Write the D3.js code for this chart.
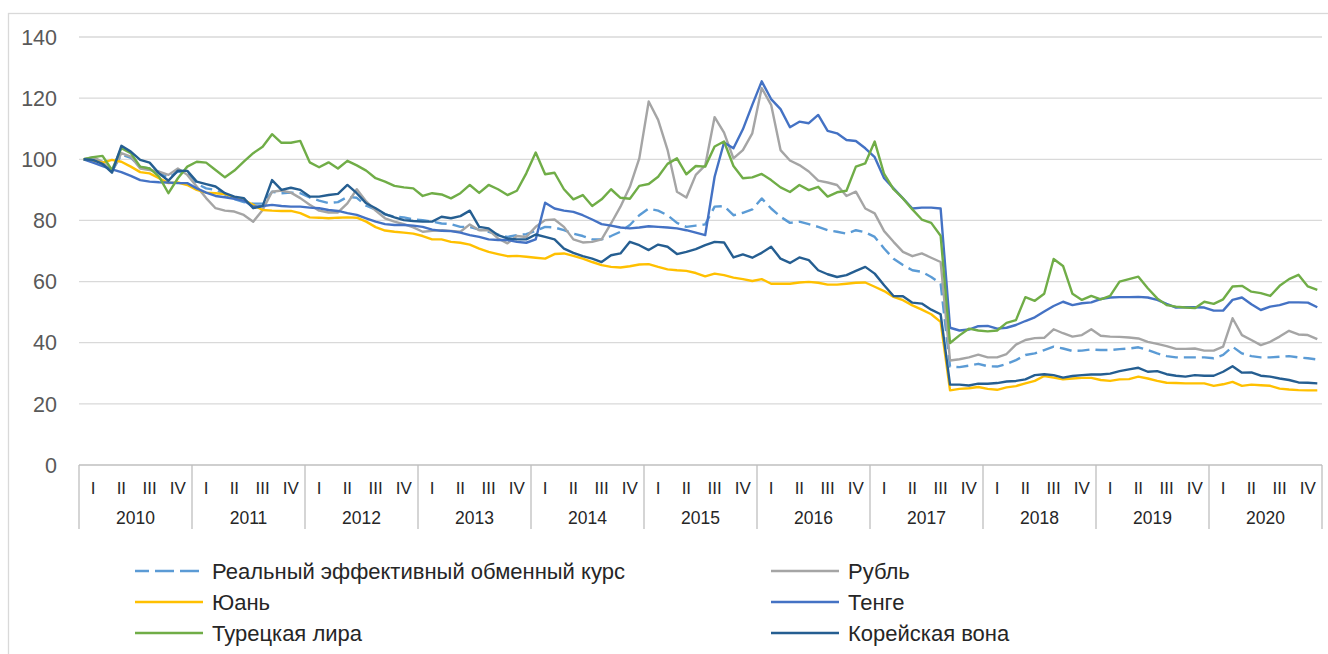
<!DOCTYPE html>
<html>
<head>
<meta charset="utf-8">
<script src="https://cdn.jsdelivr.net/npm/d3@7"></script>
<style>
  body { margin: 0; background: #fff; }
  text { font-family: "Liberation Sans", Arial, sans-serif; }
</style>
</head>
<body>
<script>
var width = 1328
var height = 654

// categories
const years = ["2010", "2011", "2012", "2013", "2014", "2015", "2016", "2017", "2018", "2019", "2020"]
const quarters = ["I", "II", "III", "IV"]
const yTicks = [0, 20, 40, 60, 80, 100, 120, 140]

// monthly index values, Jan 2010 = 100
const reer = [
  100, 99.5, 98.5, 96, 101.5, 100.5, 97.5, 97, 95.5, 94, 96, 95.5,
  92, 90.5, 90, 88.5, 87, 86, 85.5, 85.5, 89.4, 88.9, 89.1, 88.9,
  87.5, 86.5, 85.7, 86, 87.7, 87.4, 84.8, 83.5, 82, 81.2, 81, 80.3,
  80.1, 79.6, 79, 78.8, 77.9, 77.9, 77, 76.3, 75.4, 74.6, 75.2, 75.5,
  76.6, 77.9, 77.7, 76.8, 75.7, 74.9, 73.8, 73.8, 74.9, 76.3, 78.5, 81.7,
  83.9, 83.2, 81.7, 79.2, 77.9, 78.3, 78.7, 84.5, 84.7, 81.7, 82.5, 83.6,
  87.2, 83.9, 81.2, 79.2, 79.6, 78.8, 77.9, 76.8, 76.3, 75.7, 76.8, 76.1,
  74.6, 70.8, 67.5, 65.4, 63.7, 63.2, 61.5, 59.3, 32.2, 32, 32.5, 33.1,
  32.3, 32.2, 33, 34.3, 36, 36.5, 37.6, 38.7, 38.1, 37.3, 37.4, 37.8,
  37.6, 37.6, 37.9, 38.1, 38.5, 37.6, 36.5, 35.6, 35.2, 35.2, 35.2, 35.2,
  34.9, 36, 38.7, 36.5, 35.6, 35.2, 35.2, 35.4, 35.6, 35.2, 34.9, 34.5
]
const rub = [
  100, 100.7, 99.2, 96, 102, 100.9, 97, 96.5, 96, 94.9, 97, 94.9,
  91.1, 87.3, 84, 83.2, 82.9, 81.8, 79.6, 83.4, 89.4, 89.8, 89.1, 87.3,
  85.1, 83.2, 82.6, 82.6, 85.6, 90.2, 86.2, 83.2, 80.7, 79.6, 78.8, 77.7,
  76.3, 76.6, 76.8, 76.6, 76.3, 78.7, 76.8, 76.8, 74.1, 72.5, 74.9, 74.6,
  77.9, 80.1, 80.3, 77.9, 73.8, 72.8, 73, 73.8, 79, 84.5, 91, 100.3,
  118.9, 112.9, 103.1, 89.4, 87.5, 94.9, 98, 113.8, 108.7, 100.3, 103, 108.5,
  123.3, 117.8, 103, 99.6, 98.1, 96, 93, 92.4, 91.6, 88, 89.4, 83.9,
  82.3, 76.5, 73, 69.7, 68.3, 69.2, 67.8, 66.4, 34.2, 34.6, 35.2, 36.1,
  35.2, 35.2, 36.3, 39.4, 40.9, 41.5, 41.6, 44.4, 43.1, 42, 42.5, 44.4,
  42.3, 42, 41.9, 41.7, 41.4, 40.3, 39.6, 38.9, 38, 38, 38.1, 37.4,
  37.4, 38.7, 48, 42.5, 40.9, 39.2, 40.3, 42, 43.9, 42.7, 42.5, 41.2
]
const yuan = [
  100, 99.6, 98.9, 99.8, 99.2, 97.6, 95.8, 95.4, 93.8, 92.2, 92.4, 91.6,
  90, 89.1, 88.9, 88.6, 87.6, 86.7, 85.1, 83.4, 83.2, 83.1, 83.1, 82.4,
  81, 80.9, 80.7, 80.9, 81, 80.9, 79.6, 77.8, 76.7, 76.3, 76, 75.7,
  74.9, 73.8, 73.8, 73, 72.7, 72.1, 70.8, 69.7, 69, 68.3, 68.4, 68.1,
  67.8, 67.5, 69, 69.2, 68.4, 67.5, 66.4, 65.4, 64.8, 64.6, 65, 65.6,
  65.7, 64.8, 64, 63.7, 63.5, 62.8, 61.7, 62.6, 62.1, 61.3, 60.8, 60.2,
  60.8, 59.3, 59.3, 59.3, 59.7, 59.9, 59.6, 59, 59, 59.3, 59.6, 59.7,
  58.3, 56.9, 55, 53.9, 52.2, 50.8, 49.3, 46.8, 24.4, 24.9, 25.1, 25.5,
  24.9, 24.6, 25.4, 25.8, 26.7, 27.5, 29.1, 28.6, 28, 28.3, 28.5, 28.5,
  27.8, 27.5, 28, 28.1, 28.9, 28.3, 27.5, 26.9, 26.8, 26.7, 26.7, 26.7,
  25.9, 26.4, 27.2, 25.9, 26.3, 26.1, 25.9, 25, 24.7, 24.5, 24.4, 24.4
]
const tenge = [
  100, 98.9, 97.8, 96.7, 95.8, 94.6, 93.2, 92.7, 92.5, 92.4, 92.2, 92.2,
  90.5, 89.1, 88, 87.6, 87.1, 86.5, 84.5, 84.7, 85.1, 84.7, 84.5, 84.5,
  84.2, 84, 83.4, 83.1, 82.4, 81.8, 80.7, 79.6, 78.8, 78.5, 78.5, 78.3,
  77.9, 77, 76.6, 76.5, 76, 75.2, 74.6, 73.8, 73.6, 73.6, 73, 72.7,
  73.8, 85.8, 83.9, 83.2, 82.8, 81.7, 80.3, 78.8, 78.3, 77.7, 77.4, 77.7,
  78.1, 77.9, 77.7, 77.4, 76.8, 76, 75.2, 94.3, 105.5, 103.6, 109.8, 117.8,
  125.5, 119.7, 116.4, 110.5, 112.3, 111.8, 114.5, 109.3, 108.5, 106.3, 106, 103.6,
  100.7, 93.8, 90.5, 87.2, 83.9, 84.2, 84.2, 83.9, 44.9, 44, 44.3, 45.4,
  45.5, 44.6, 44.9, 45.8, 47.1, 48.3, 50.2, 52, 53.4, 52.3, 52.9, 53.2,
  54.3, 54.8, 54.9, 54.9, 55, 54.8, 54, 52.7, 51.5, 51.6, 51.6, 51.5,
  50.5, 50.5, 54, 54.8, 52.6, 50.7, 51.8, 52.3, 53.2, 53.2, 53.1, 51.6
]
const lira = [
  100, 100.7, 101.1, 96.5, 103.6, 102, 97.6, 97, 94.3, 88.9, 93.8, 97.6,
  99.2, 98.9, 96.5, 94.1, 96.3, 99.2, 102, 104.1, 108.2, 105.4, 105.4, 106,
  99, 97.4, 99, 97, 99.5, 98, 96.3, 93.8, 92.7, 91.3, 90.8, 90.5,
  88, 88.9, 88.5, 87.2, 88.9, 91.6, 89, 91.6, 90.2, 88.3, 89.7, 95.4,
  102.2, 95.1, 95.6, 90.2, 86.9, 88.3, 84.7, 86.9, 90.2, 87.4, 87.1, 91.3,
  91.9, 94.3, 98.5, 100.3, 95.1, 97.8, 97.6, 104.2, 105.8, 97.8, 93.8, 94.1,
  95.2, 93.2, 90.8, 89.3, 91.6, 89.9, 91, 87.8, 89.2, 89.7, 97.6, 98.7,
  105.8, 95.2, 90.2, 87.2, 83.6, 80.3, 79.2, 75, 39.9, 42.4, 44.6, 44,
  43.7, 44, 46.5, 47.4, 54.9, 53.7, 56, 67.4, 65.1, 56, 54, 55.3,
  54.2, 55.3, 60, 60.8, 61.6, 57.8, 54.5, 52.3, 51.8, 51.5, 51.3, 53.4,
  52.7, 54.2, 58.4, 58.6, 56.7, 56.2, 55.3, 58.6, 60.8, 62.2, 58.4, 57.3
]
const won = [
  100, 99.8, 98.5, 95.6, 104.4, 102.5, 99.8, 98.9, 95.4, 93, 96.3, 96.2,
  92.7, 91.9, 91.1, 88.9, 87.8, 87.3, 84, 84.7, 93.2, 90, 90.7, 90,
  87.8, 87.8, 88.3, 88.7, 91.6, 88.9, 85.6, 84, 82.1, 81, 80.1, 79.8,
  79.6, 79.6, 81.2, 80.7, 81.4, 83.2, 77.9, 77.4, 75.2, 74.1, 73.8, 73.8,
  75.4, 74.6, 73.8, 70.8, 69.4, 68.3, 67.5, 66.4, 68.6, 69.2, 73, 71.9,
  70.3, 72.1, 71.4, 69, 69.7, 70.6, 71.9, 73, 72.8, 67.9, 68.9, 67.8,
  69.4, 71.4, 67.5, 66.1, 67.9, 67, 63.7, 62.4, 61.5, 62.1, 63.5, 64.8,
  62.6, 58.8, 55.3, 55.2, 53.1, 52.8, 50.8, 49.3, 26.3, 26.3, 26, 26.6,
  26.6, 26.8, 27.3, 27.5, 28, 29.4, 29.7, 29.4, 28.6, 29.1, 29.4, 29.6,
  29.6, 29.9, 30.7, 31.3, 31.8, 30.5, 30.7, 29.7, 29.2, 28.9, 29.4, 29.2,
  29.2, 30.5, 32.3, 30.2, 30.3, 29.2, 28.9, 28.3, 27.8, 27, 26.9, 26.7
]

const seriesNames = ["Реальный эффективный обменный курс", "Рубль", "Юань", "Тенге", "Турецкая лира", "Корейская вона"]
const seriesValues = [reer, rub, yuan, tenge, lira, won]
const seriesColors = ["#5B9BD5", "#A5A5A5", "#FFC000", "#4472C4", "#70AD47", "#255E91"]

var plot = {left: 79, right: 1322, top: 37, bottom: 465}

var svg = d3.select("body").append("svg")
    .attr("width", width)
    .attr("height", height);

// chart border
svg.append("rect")
    .attr("x", 8.5).attr("y", 13.5)
    .attr("width", width).attr("height", height)
    .attr("fill", "none")
    .attr("stroke", "#D9D9D9")
    .attr("stroke-width", 1.3);

var y = d3.scaleLinear().domain([0, 140]).range([plot.bottom, plot.top]);
var xYear = d3.scaleBand().domain(years).range([plot.left, plot.right]);
var xQuarter = d3.scaleBand().domain(quarters).range([0, xYear.bandwidth()]);
var xMonth = d3.scaleBand().domain(d3.range(years.length * 12)).range([plot.left, plot.right]);

// gridlines
svg.append("g")
  .selectAll("line")
  .data(yTicks.filter(function(d) { return d > 0; }))
  .enter().append("line")
    .attr("x1", plot.left).attr("x2", plot.right)
    .attr("y1", function(d) { return y(d); })
    .attr("y2", function(d) { return y(d); })
    .attr("stroke", "#D9D9D9")
    .attr("stroke-width", 1.3);

// y labels
svg.append("g")
  .selectAll("text")
  .data(yTicks)
  .enter().append("text")
    .attr("x", 57)
    .attr("y", function(d) { return y(d); })
    .attr("dy", "0.36em")
    .attr("text-anchor", "end")
    .attr("font-size", 21.5)
    .attr("fill", "#595959")
    .text(function(d) { return d; });

// category axis
var xAxis = svg.append("g");
xAxis.append("line")
    .attr("x1", plot.left).attr("x2", plot.right)
    .attr("y1", plot.bottom).attr("y2", plot.bottom)
    .attr("stroke", "#BFBFBF")
    .attr("stroke-width", 1.3);

xAxis.selectAll(".sep")
  .data(years.concat(["end"]))
  .enter().append("line")
    .attr("class", "sep")
    .attr("x1", function(d, i) { return i < years.length ? xYear(d) : plot.right; })
    .attr("x2", function(d, i) { return i < years.length ? xYear(d) : plot.right; })
    .attr("y1", plot.bottom).attr("y2", plot.bottom + 64)
    .attr("stroke", "#BFBFBF")
    .attr("stroke-width", 1.3);

var yearG = xAxis.selectAll(".year")
  .data(years)
  .enter().append("g")
    .attr("class", "year")
    .attr("transform", function(d) { return "translate(" + xYear(d) + ",0)"; });

yearG.selectAll("text.q")
  .data(quarters)
  .enter().append("text")
    .attr("class", "q")
    .attr("x", function(q) { return xQuarter(q) + xQuarter.bandwidth() / 2; })
    .attr("y", plot.bottom + 23)
    .attr("dy", "0.36em")
    .attr("text-anchor", "middle")
    .attr("font-size", 17)
    .attr("fill", "#262626")
    .text(function(q) { return q; });

yearG.append("text")
    .attr("x", xYear.bandwidth() / 2)
    .attr("y", plot.bottom + 53)
    .attr("dy", "0.36em")
    .attr("text-anchor", "middle")
    .attr("font-size", 17.5)
    .attr("fill", "#262626")
    .text(function(d) { return d; });

// lines
var line = d3.line()
    .x(function(d, i) { return xMonth(i) + xMonth.bandwidth() / 2; })
    .y(function(d) { return y(d); });

svg.append("g")
  .selectAll("path")
  .data(seriesValues)
  .enter().append("path")
    .attr("d", function(d) { return line(d); })
    .attr("fill", "none")
    .attr("stroke", function(d, i) { return seriesColors[i]; })
    .attr("stroke-width", 2.4)
    .attr("stroke-linejoin", "round")
    .attr("stroke-dasharray", function(d, i) { return i == 0 ? "12,6" : null; });

// legend, two columns
var legend = svg.append("g")
  .selectAll("g")
  .data(seriesNames)
  .enter().append("g")
    .attr("transform", function(d, i) {
      return "translate(" + (i % 2 == 0 ? 135 : 771) + "," + (571 + Math.floor(i / 2) * 31) + ")";
    });

legend.append("line")
    .attr("x1", 0).attr("x2", 68)
    .attr("stroke", function(d, i) { return seriesColors[i]; })
    .attr("stroke-width", 2.4)
    .attr("stroke-dasharray", function(d, i) { return i == 0 ? "19,6" : null; })
    .attr("stroke-dashoffset", function(d, i) { return i == 0 ? 5 : null; });

legend.append("text")
    .attr("x", 77)
    .attr("dy", "0.36em")
    .attr("font-size", 22)
    .attr("fill", "#262626")
    .text(function(d) { return d; });
</script>
</body>
</html>
